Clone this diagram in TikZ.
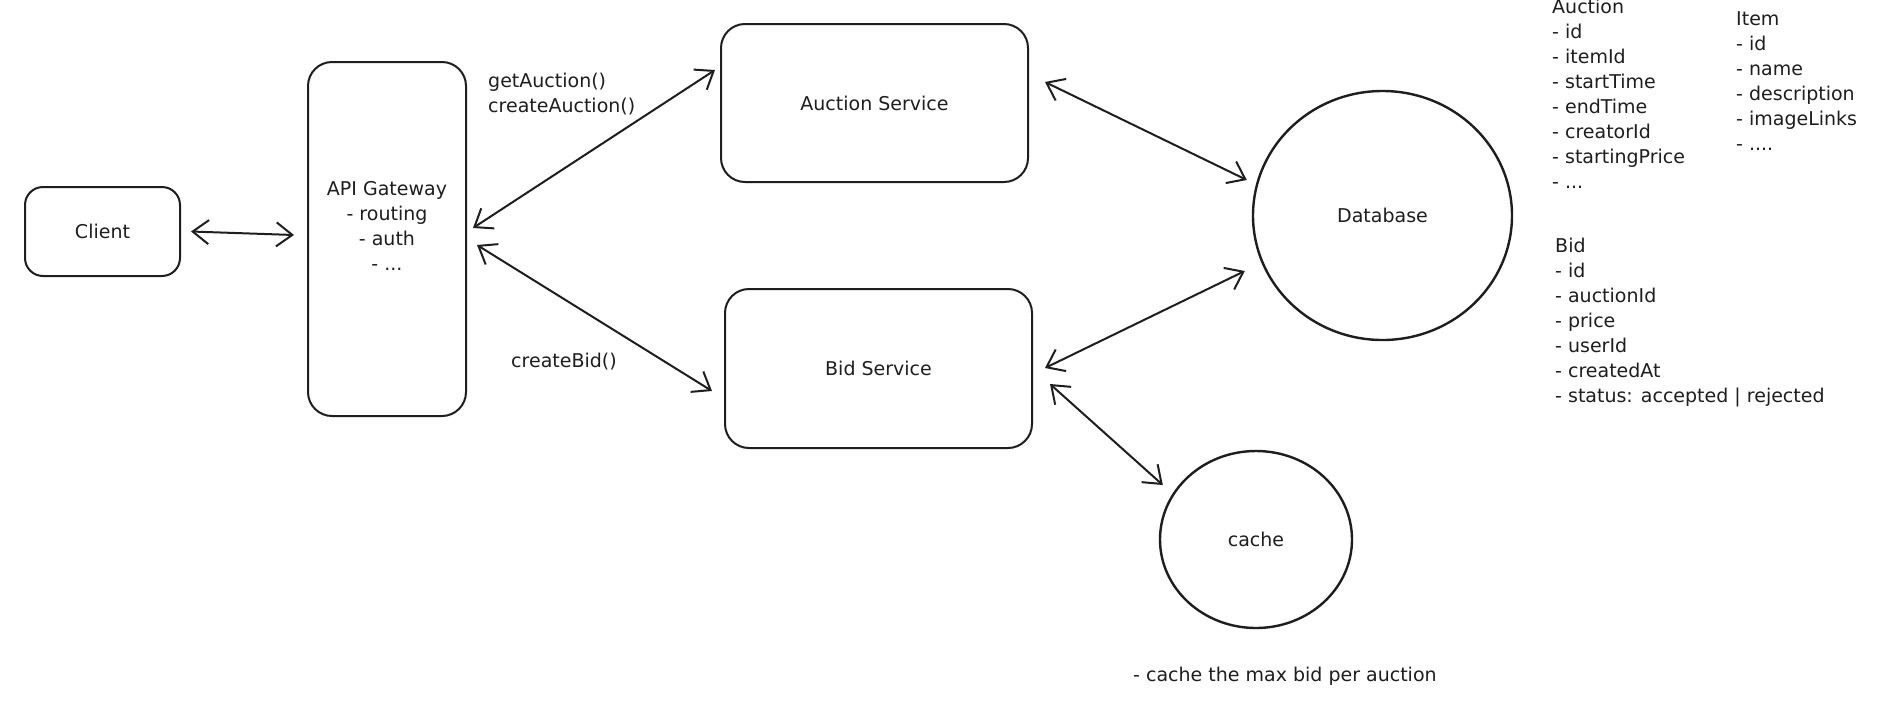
\documentclass[tikz,border=0pt]{standalone}
\usepackage{fontspec}
\setmainfont{DejaVu Sans}
\usetikzlibrary{arrows.meta,shapes.geometric,calc}
\definecolor{ink}{HTML}{1E1E1E}
\begin{document}
\begin{tikzpicture}[x=1pt,y=-1pt,
  box/.style={draw=ink, line width=2pt, rounded corners=24pt, inner sep=0pt, font=\fontsize{19}{25}\selectfont, text=ink},
  blob/.style={draw=ink, line width=2.4pt, ellipse, inner sep=0pt, font=\fontsize{19}{25}\selectfont, text=ink},
  link/.style={draw=ink, line width=2pt, {Straight Barb[length=16pt,width=24pt]}-{Straight Barb[length=16pt,width=24pt]}},
  txt/.style={font=\fontsize{19}{25}\selectfont, text=ink, inner sep=0pt},
]
\useasboundingbox[fill=white] (0,0) rectangle (1882,710);

% boxes
\node[box, rounded corners=18pt, minimum width=155pt, minimum height=89pt] (client) at (102.5,231.5) {Client};
\node[box, minimum width=158pt, minimum height=354pt] (api) at (387,239) {};
\node[txt, align=center] (apitext) at (387,226) {API Gateway\\- routing\\- auth\\- ...};
\node[box, minimum width=307pt, minimum height=158pt] (auction) at (874.5,103) {Auction Service};
\node[box, minimum width=307pt, minimum height=159pt] (bid) at (878.5,368.5) {Bid Service};
\node[blob, minimum width=259pt, minimum height=249pt] (db) at (1382.5,215.5) {Database};
\node[blob, minimum width=192pt, minimum height=177pt] (cache) at (1256,539.5) {cache};

% connectors
\draw[link] ($(client.east)+(10,0)$) -- ($(api.west)+(-13,-4)$);
\draw[link] ($(api.east)+(6,-11)$) -- ($(auction.west)+(-5,-33)$);
\draw[link] ($(api.east)+(10,6)$) -- ($(bid.west)+(-12,22.5)$);
\draw[link] ($(auction.east)+(16,-21)$) -- ($(db.west)+(-5,-35.5)$);
\draw[link] ($(bid.east)+(12,-0.5)$) -- ($(db.west)+(-7,55.5)$);
\draw[link] ($(bid.east)+(17,15.5)$) -- ($(cache.west)+(4,-54.5)$);

% labels
\node[txt, anchor=west, align=left] (lblauc) at (488,94) {getAuction()\\createAuction()};
\node[txt, anchor=west] (lblbid) at (511,362) {createBid()};
\node[txt, anchor=west] (note) at (1133,676) {- cache the max bid per auction};

% data model
\node[txt, anchor=north west, align=left] (auclist) at (1552,-1) {Auction\\- id\\- itemId\\- startTime\\- endTime\\- creatorId\\- startingPrice\\- ...};
\node[txt, anchor=north west, align=left] (itemlist) at (1736,11) {Item\\- id\\- name\\- description\\- imageLinks\\- ....};
\node[txt, anchor=north west, align=left] (bidlist) at (1555,238) {Bid\\- id\\- auctionId\\- price\\- userId\\- createdAt\\- status: accepted | rejected};
\end{tikzpicture}
\end{document}
